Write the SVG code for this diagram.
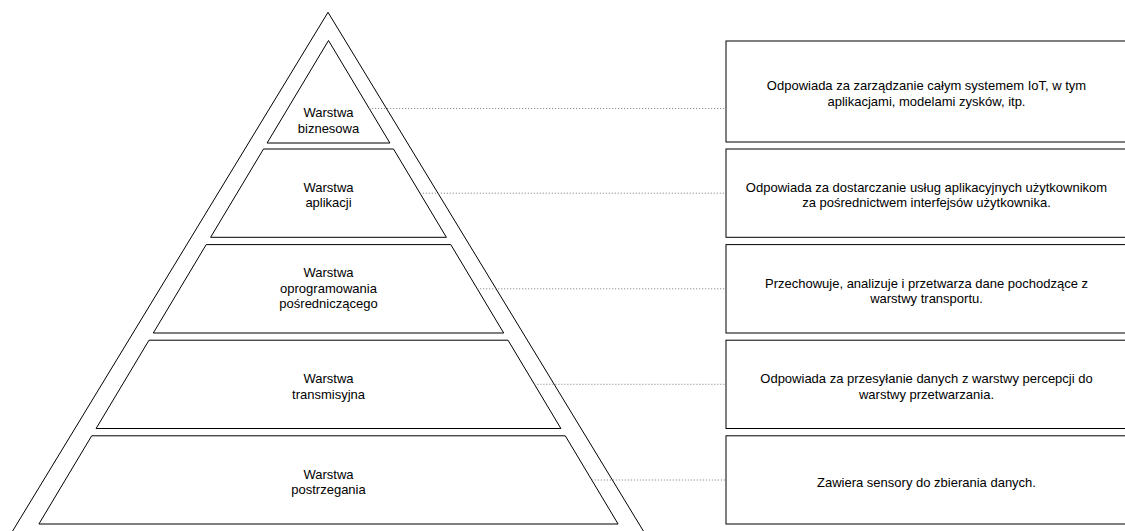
<svg xmlns="http://www.w3.org/2000/svg" width="1125" height="531" viewBox="0 0 1125 531">
  <style>
    .layer { fill: #ffffff; stroke: #000000; stroke-width: 1; stroke-linejoin: miter; }
    .outer { fill: none; stroke: #000000; stroke-width: 1; }
    .desc { fill: #ffffff; stroke: #000000; stroke-width: 1; }
    .link { fill: none; stroke: #777777; stroke-width: 1; stroke-dasharray: 1 2; }
    text { font-family: "Liberation Sans", Arial, Helvetica, sans-serif; font-size: 13px; fill: #000000; text-anchor: middle; }
  </style>

  <rect x="0" y="0" width="1125" height="531" fill="#ffffff"/>

  <!-- outer pyramid outline, base runs off the bottom edge -->
  <g id="pyramid-outline">
    <path class="outer" d="M328,12.3 L661,560 L-5,560 Z"/>
  </g>

  <!-- pyramid layers, top to bottom -->
  <g id="layer-business">
    <polygon class="layer" points="328.5,40.5 389.9,143 267.1,143"/>
    <text x="328.5" y="117.3">Warstwa</text>
    <text x="328.5" y="132.8">biznesowa</text>
  </g>
  <g id="layer-application">
    <polygon class="layer" points="263.5,149 393.5,149 446.4,237.3 210.6,237.3"/>
    <text x="328.5" y="191.8">Warstwa</text>
    <text x="328.5" y="207.3">aplikacji</text>
  </g>
  <g id="layer-middleware">
    <polygon class="layer" points="206.2,244.6 450.8,244.6 503.7,333 153.3,333"/>
    <text x="328.5" y="277">Warstwa</text>
    <text x="328.5" y="292.5">oprogramowania</text>
    <text x="328.5" y="308">pośredniczącego</text>
  </g>
  <g id="layer-transport">
    <polygon class="layer" points="149,340.2 508,340.2 560.9,428.5 96.1,428.5"/>
    <text x="328.5" y="383">Warstwa</text>
    <text x="328.5" y="398.5">transmisyjna</text>
  </g>
  <g id="layer-perception">
    <polygon class="layer" points="91.7,435.8 565.3,435.8 618.1,524 38.9,524"/>
    <text x="328.5" y="478.7">Warstwa</text>
    <text x="328.5" y="494.2">postrzegania</text>
  </g>

  <!-- dotted leader lines from each layer to its description -->
  <g id="connectors">
    <line class="link" x1="369.2" y1="108.5" x2="726" y2="108.5"/>
    <line class="link" x1="419.8" y1="193.2" x2="726" y2="193.2"/>
    <line class="link" x1="477.2" y1="288.8" x2="726" y2="288.8"/>
    <line class="link" x1="534.4" y1="384.3" x2="726" y2="384.3"/>
    <line class="link" x1="591.8" y1="480" x2="726" y2="480"/>
  </g>

  <!-- description boxes -->
  <g id="desc-business">
    <rect class="desc" x="726" y="41" width="401" height="101"/>
    <text x="926.5" y="90.2">Odpowiada za zarządzanie całym systemem IoT, w tym</text>
    <text x="926.5" y="105.7">aplikacjami, modelami zysków, itp.</text>
  </g>
  <g id="desc-application">
    <rect class="desc" x="726" y="149" width="401" height="88.3"/>
    <text x="926.5" y="191.7">Odpowiada za dostarczanie usług aplikacyjnych użytkownikom</text>
    <text x="926.5" y="207.2">za pośrednictwem interfejsów użytkownika.</text>
  </g>
  <g id="desc-middleware">
    <rect class="desc" x="726" y="244.6" width="401" height="88.4"/>
    <text x="926.5" y="287.5">Przechowuje, analizuje i przetwarza dane pochodzące z</text>
    <text x="926.5" y="303">warstwy transportu.</text>
  </g>
  <g id="desc-transport">
    <rect class="desc" x="726" y="340.2" width="401" height="88.3"/>
    <text x="926.5" y="383">Odpowiada za przesyłanie danych z warstwy percepcji do</text>
    <text x="926.5" y="398.5">warstwy przetwarzania.</text>
  </g>
  <g id="desc-perception">
    <rect class="desc" x="726" y="435.8" width="401" height="88.2"/>
    <text x="926.5" y="486.5">Zawiera sensory do zbierania danych.</text>
  </g>
</svg>
